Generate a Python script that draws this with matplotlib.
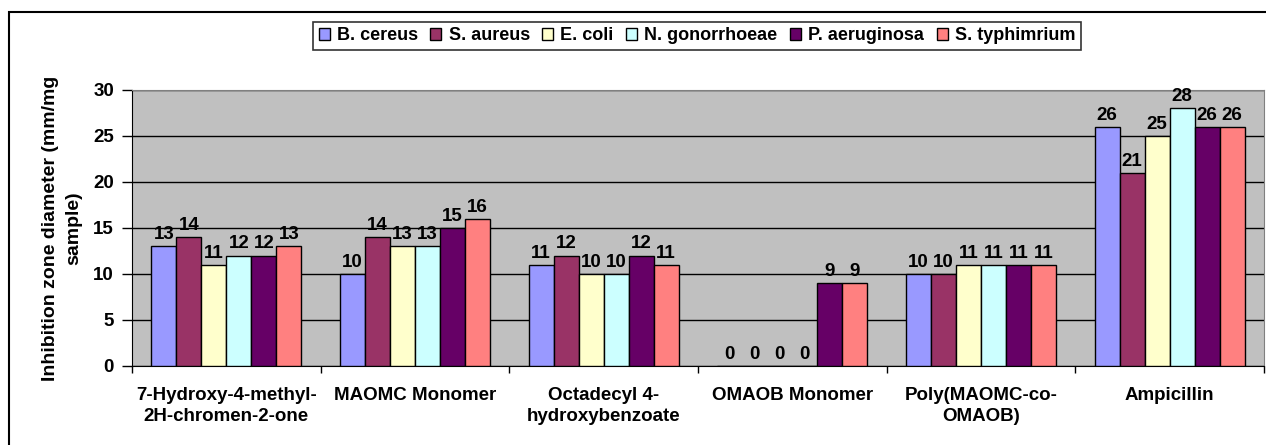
import numpy as np
import matplotlib.pyplot as plt
from matplotlib.patches import Rectangle

plt.rcParams['font.family'] = ['Liberation Sans', 'DejaVu Sans']
plt.rcParams['font.weight'] = 'bold'

categories = ["7-Hydroxy-4-methyl-\n2H-chromen-2-one", "MAOMC Monomer",
              "Octadecyl 4-\nhydroxybenzoate", "OMAOB Monomer",
              "Poly(MAOMC-co-\nOMAOB)", "Ampicillin"]
series = ["B. cereus", "S. aureus", "E. coli", "N. gonorrhoeae",
          "P. aeruginosa", "S. typhimrium"]
b_cereus = [13, 10, 11, 0, 10, 26]
s_aureus = [14, 14, 12, 0, 10, 21]
e_coli = [11, 13, 10, 0, 11, 25]
n_gonorrhoeae = [12, 13, 10, 0, 11, 28]
p_aeruginosa = [12, 15, 12, 9, 11, 26]
s_typhimrium = [13, 16, 11, 9, 11, 26]
values = [b_cereus, s_aureus, e_coli, n_gonorrhoeae, p_aeruginosa, s_typhimrium]
colors = ['#9999FF', '#993366', '#FFFFCC', '#CCFFFF', '#660066', '#FF8080']

fig = plt.figure(figsize=(12.66, 4.45), dpi=100)
ax = fig.add_axes([132/1266, 1-366/445, (1264-132)/1266, (366-90)/445])
ax.set_facecolor('#C0C0C0')

x = np.arange(len(categories))
w = 0.1325
for i, (name, vals, c) in enumerate(zip(series, values, colors)):
    pos = x - 2.5*w + i*w
    ax.bar(pos, vals, w, color=c, edgecolor='black', linewidth=1, label=name, zorder=3)
    for px, v in zip(pos, vals):
        ax.text(px, v + 0.35, str(v), ha='center', va='bottom', fontsize=13.5,
                fontweight='bold', zorder=4)

ax.set_xlim(-0.5, len(categories) - 0.5)
ax.set_ylim(0, 30)
ax.set_yticks(range(0, 31, 5))
ax.set_yticklabels([str(v) for v in range(0, 31, 5)], fontsize=13.5, fontweight='bold')
ax.yaxis.grid(True, color='black', linewidth=1, zorder=1)
ax.set_axisbelow(True)
ax.tick_params(axis='y', direction='out', length=7, width=1, pad=6)

ax.set_xticks(np.arange(-0.5, len(categories), 1.0))
ax.set_xticklabels([])
ax.set_xticks(x, minor=True)
ax.set_xticklabels(categories, minor=True, fontsize=13.5, fontweight='bold',
                   linespacing=1.35, va='top')
ax.tick_params(axis='x', which='major', direction='out', length=5, width=1)
ax.tick_params(axis='x', which='minor', length=0, pad=15)

for s in ['top', 'right']:
    ax.spines[s].set_color('#808080')
for s in ['left', 'bottom']:
    ax.spines[s].set_color('black')

ax.set_ylabel("Inhibition zone diameter (mm/mg\nsample)", fontsize=14,
              fontweight='bold', labelpad=8, linespacing=1.45)

leg = fig.legend(loc='upper center', bbox_to_anchor=(697/1266, 1-22/445), ncol=6,
                 frameon=True, fancybox=False, edgecolor='black',
                 prop={'size': 13, 'weight': 'bold'}, handlelength=0.6,
                 handleheight=0.6, handletextpad=0.4, columnspacing=0.7,
                 borderpad=0.3, borderaxespad=0)
leg.get_frame().set_linewidth(1.2)

fig.patches.append(Rectangle((9/1266, -0.1), 1.2, 1-12/445+0.1,
                             transform=fig.transFigure, fill=False,
                             edgecolor='black', linewidth=1.5))

fig.savefig('out.png', dpi=100)
